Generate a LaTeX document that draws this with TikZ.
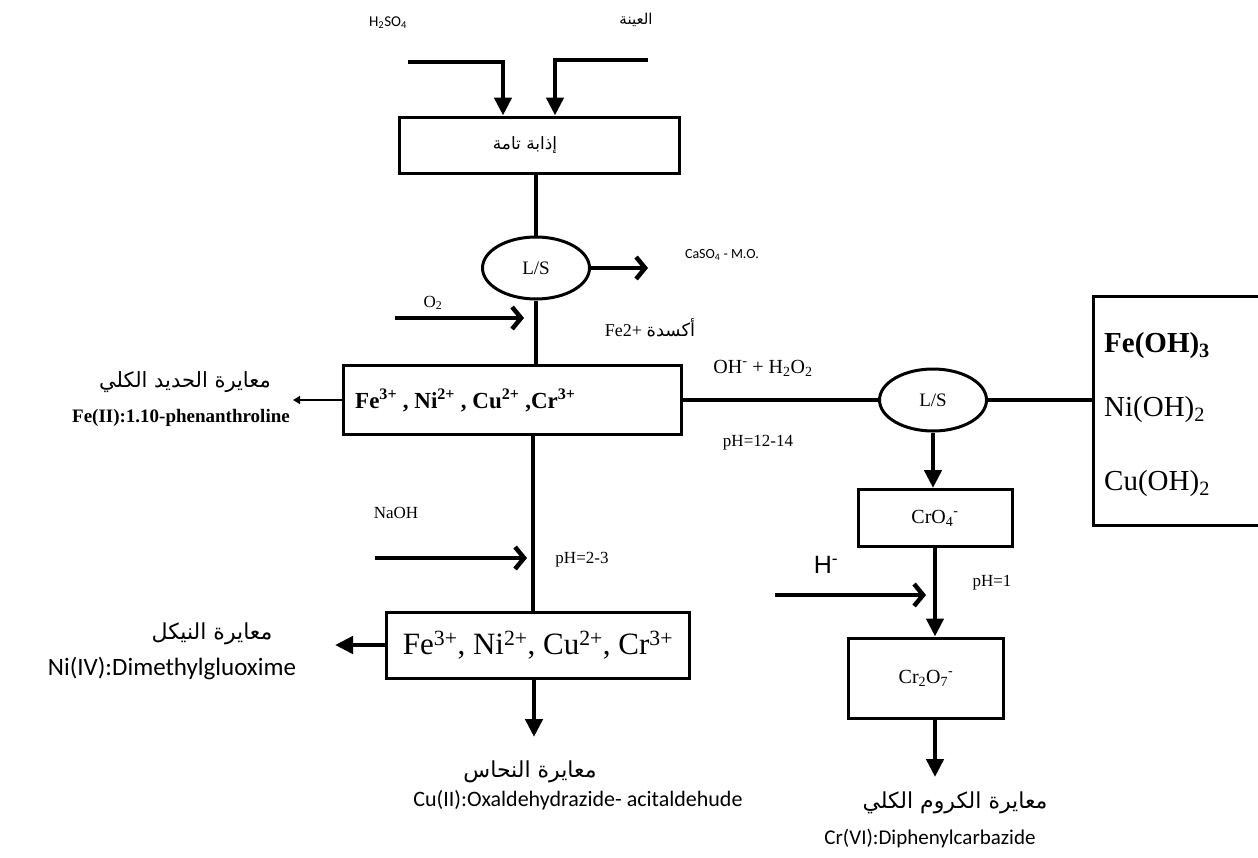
\documentclass[tikz,border=0pt]{standalone}
\usepackage{fontspec}
\setmainfont{Liberation Serif}
\newfontfamily\arabicfont[Script=Arabic]{DejaVu Sans}
\newfontfamily\calfont{Carlito}
\newfontfamily\arialfont{Liberation Sans}
\TeXXeTstate=1
\usetikzlibrary{arrows.meta,shapes.geometric}
\newcommand{\fsz}[1]{\fontsize{#1}{#1}\selectfont}
\newcommand{\ar}[1]{{\arabicfont\beginR #1\endR}}
\tikzset{
  box/.style={draw, rectangle, line width=3pt, inner sep=0pt},
  sep/.style={draw, ellipse, line width=3pt, minimum width=107pt, minimum height=62pt, inner sep=0pt, font=\fsz{19}},
  flow/.style={line width=4.5pt},
  down/.style={line width=4.5pt, -{Triangle[length=18pt,width=17pt]}},
  feed/.style={line width=4.5pt, -{Straight Barb[length=9pt,width=22pt]}},
  thinarr/.style={line width=2pt, -{Triangle[length=7pt,width=8pt]}},
  lbl/.style={inner sep=0pt}
}
\begin{document}
\begin{tikzpicture}[x=1pt,y=-1pt]
\useasboundingbox (0,0) rectangle (1258,857);
\clip (0,0) rectangle (1258,857);

% boxes and separators
\node[box, minimum width=280pt, minimum height=56pt] (box1) at (539,145) {};
\node[lbl, font=\fsz{17}] (box1t) at (525,145) {\ar{إذابة تامة}};
\node[sep] (ls1) at (536,268) {L/S};
\node[box, minimum width=338pt, minimum height=69pt] (box2) at (512,400) {};
\node[lbl, anchor=west, font=\fsz{23}\bfseries] (box2t) at (355,400)
  {Fe\textsuperscript{3+} , Ni\textsuperscript{2+} , Cu\textsuperscript{2+} ,Cr\textsuperscript{3+}};
\node[sep] (ls2) at (933,400) {L/S};
\node[box, minimum width=240pt, minimum height=229pt] (rbox) at (1213,411) {};
\node[lbl, anchor=west, font=\fsz{29}\bfseries] (feoh) at (1104,346) {Fe(OH)\textsubscript{3}};
\node[lbl, anchor=west, font=\fsz{29}] (nioh) at (1104,410) {Ni(OH)\textsubscript{2}};
\node[lbl, anchor=west, font=\fsz{29}] (cuoh) at (1104,484) {Cu(OH)\textsubscript{2}};
\node[box, minimum width=154pt, minimum height=57pt, font=\fsz{20}] (cro4) at (935,518) {CrO\textsubscript{4}\textsuperscript{-}};
\node[box, minimum width=155pt, minimum height=80pt, font=\fsz{20}] (cr2o7) at (926,678) {Cr\textsubscript{2}O\textsubscript{7}\textsuperscript{-}};
\node[box, minimum width=303pt, minimum height=66pt, font=\fsz{31}] (box3) at (538,645)
  {Fe\textsuperscript{3+}, Ni\textsuperscript{2+}, Cu\textsuperscript{2+}, Cr\textsuperscript{3+}};

% labels
\node[lbl, font=\calfont\fsz{15}] (h2so4) at (388,23) {H\textsubscript{2}SO\textsubscript{4}};
\node[lbl, font=\fsz{15}] (sample) at (636,20) {\ar{العينة}};
\node[lbl, font=\calfont\fsz{14}] (caso4) at (722,255) {CaSO\textsubscript{4} - M.O.};
\node[lbl, font=\fsz{17}] (o2) at (433,303) {O\textsubscript{2}};
\node[lbl, font=\fsz{18}] (fe2) at (650,328) {Fe2+ \ar{أكسدة}};
\node[lbl, font=\fsz{20}] (ohh) at (763,368) {OH\textsuperscript{-} + H\textsubscript{2}O\textsubscript{2}};
\node[lbl, font=\fsz{17}] (ph1214) at (758,443) {pH=12-14};
\node[lbl, font=\fsz{17}] (naoh) at (396,513) {NaOH};
\node[lbl, font=\fsz{17}] (ph23) at (582,560) {pH=2-3};
\node[lbl, font=\arialfont\fsz{25}] (hm) at (826,565) {H\textsuperscript{-}};
\node[lbl, font=\fsz{17}] (ph1) at (992,583) {pH=1};
\node[lbl, font=\fsz{21}] (feAr) at (185,382) {\ar{معايرة الحديد الكلي}};
\node[lbl, anchor=east, font=\fsz{19}\bfseries] (feLat) at (290,418) {Fe(II):1.10-phenanthroline};
\node[lbl, font=\fsz{22}] (niAr) at (212,634) {\ar{معايرة النيكل}};
\node[lbl, font=\calfont\fsz{25}] (niLat) at (172,668) {Ni(IV):Dimethylgluoxime};
\node[lbl, font=\fsz{22}] (cuAr) at (530,772) {\ar{معايرة النحاس}};
\node[lbl, font=\calfont\fsz{22}] (cuLat) at (578,800) {Cu(II):Oxaldehydrazide- acitaldehude};
\node[lbl, font=\fsz{22}] (crAr) at (955,803) {\ar{معايرة الكروم الكلي}};
\node[lbl, font=\calfont\fsz{21}] (crLat) at (930,838) {Cr(VI):Diphenylcarbazide};

% free ends
\coordinate (h2s) at (408,62);
\coordinate (sms) at (648,60);
\coordinate (caso4tip) at (648,268);
\coordinate (o2s) at (395,318);
\coordinate (o2tip) at (524,318);
\coordinate (fetip) at (293,400);
\coordinate (naohs) at (375,558);
\coordinate (naohtip) at (527,558);
\coordinate (hs) at (775,595);
\coordinate (htip) at (926,595);
\coordinate (nitip) at (335,645);
\coordinate (cutip) at (534,737);
\coordinate (crtip) at (935,777);

% connectors
\draw[down] (h2s) -| ([xshift=-36pt]box1.north);
\draw[down] (sms) -| ([xshift=16pt]box1.north);
\draw[flow] (ls1.north) -- (ls1.north |- box1.south);
\draw[feed] (ls1.east) -- (caso4tip);
\draw[feed] (o2s) -- (o2tip);
\draw[flow] (ls1.south) -- (ls1.south |- box2.north);
\draw[thinarr] (box2.west) -- (fetip);
\draw[flow] (box2.east) -- (ls2.west);
\draw[flow] (ls2.east) -- (ls2.east -| rbox.west);
\draw[down] (ls2.south) -- (ls2.south |- cro4.north);
\draw[down] (cro4.south) -- (cro4.south |- cr2o7.north);
\draw[feed] (hs) -- (htip);
\draw[down] (cro4.south |- cr2o7.south) -- (crtip);
\draw[flow] ([xshift=-3pt]ls1.south |- box2.south) -- ([xshift=-3pt]ls1.south |- box3.north);
\draw[feed] (naohs) -- (naohtip);
\draw[down] (box3.west) -- (nitip);
\draw[down] (cutip |- box3.south) -- (cutip);
\end{tikzpicture}
\end{document}
